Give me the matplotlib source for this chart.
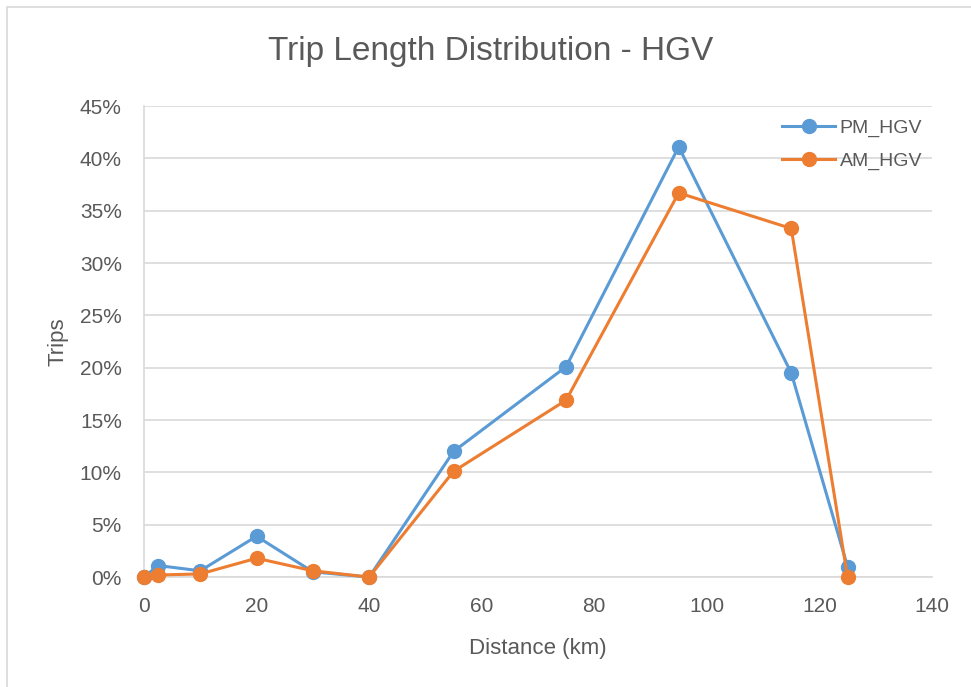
import matplotlib
matplotlib.use("Agg")
import matplotlib.pyplot as plt
from matplotlib.patches import Rectangle
from matplotlib.ticker import PercentFormatter

plt.rcParams['font.family'] = ['Liberation Sans Narrow', 'Liberation Sans', 'DejaVu Sans']

# trip length bands (km) and share of trips (%)
distance = [0, 2.5, 10, 20, 30, 40, 55, 75, 95, 115, 125]
pm_hgv = [0, 1.1, 0.6, 3.9, 0.5, 0, 12.0, 20.1, 41.1, 19.5, 1.0]
am_hgv = [0, 0.2, 0.3, 1.8, 0.6, 0, 10.1, 16.9, 36.7, 33.3, 0]

blue = '#5B9BD5'
orange = '#ED7D31'
grey_text = '#595959'

fig = plt.figure(figsize=(9.71, 6.87), dpi=100)
ax = fig.add_axes([0.1483, 0.160, 0.8115, 0.6857])

ax.plot(distance, pm_hgv, color=blue, lw=2.2, marker='o', ms=10, label='PM_HGV', clip_on=False, zorder=3)
ax.plot(distance, am_hgv, color=orange, lw=2.2, marker='o', ms=10, label='AM_HGV', clip_on=False, zorder=4)

ax.set_xlim(0, 140)
ax.set_ylim(0, 45)
ax.set_xticks(range(0, 141, 20))
ax.set_yticks(range(0, 46, 5))
ax.yaxis.set_major_formatter(PercentFormatter(decimals=0))
ax.grid(axis='y', color='#D9D9D9', lw=1.2)
ax.set_axisbelow(True)
for s in ['top', 'right']:
    ax.spines[s].set_visible(False)
for s in ['left', 'bottom']:
    ax.spines[s].set_color('#D9D9D9')
    ax.spines[s].set_linewidth(1.2)
ax.tick_params(length=0, labelsize=15, colors=grey_text)
ax.tick_params(axis='y', pad=16)
ax.tick_params(axis='x', pad=14)

ax.set_xlabel('Distance (km)', fontsize=16, color=grey_text, labelpad=16)
ax.set_ylabel('Trips', fontsize=16, color=grey_text, labelpad=8)
fig.text(0.505, 0.925, 'Trip Length Distribution - HGV', ha='center', va='center',
         fontsize=24, color=grey_text)

leg = ax.legend(loc='upper right', bbox_to_anchor=(1.005, 1.0), frameon=False,
                fontsize=14, handlelength=2.7, handletextpad=0.25,
                labelspacing=0.75, borderaxespad=0.3)
for t in leg.get_texts():
    t.set_color(grey_text)

# light outline around the chart area
fig.patches.append(Rectangle((0.007, -0.01), 1.1, 1.0, transform=fig.transFigure,
                             fill=False, edgecolor='#D9D9D9', lw=1.2))

fig.savefig('out.png', dpi=100)
